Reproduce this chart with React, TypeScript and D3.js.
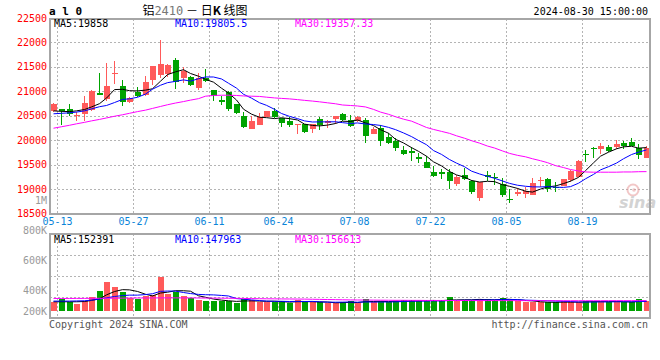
import React from 'react';
import * as d3 from 'd3';

// trading days shown (05-13 .. 08-30)
const dates = [
  '05-13', '05-14', '05-15', '05-16', '05-17', '05-20', '05-21', '05-22', '05-23', '05-24',
  '05-27', '05-28', '05-29', '05-30', '05-31', '06-03', '06-04', '06-05', '06-06', '06-07',
  '06-11', '06-12', '06-13', '06-14', '06-17', '06-18', '06-19', '06-20', '06-21', '06-24',
  '06-25', '06-26', '06-27', '06-28', '07-01', '07-02', '07-03', '07-04', '07-05', '07-08',
  '07-09', '07-10', '07-11', '07-12', '07-15', '07-16', '07-17', '07-18', '07-19', '07-22',
  '07-23', '07-24', '07-25', '07-26', '07-29', '07-30', '07-31', '08-01', '08-02', '08-05',
  '08-06', '08-07', '08-08', '08-09', '08-12', '08-13', '08-14', '08-15', '08-16', '08-19',
  '08-20', '08-21', '08-22', '08-23', '08-26', '08-27', '08-28', '08-29', '08-30',
];

const opens = [
  20590, 20630, 20640, 20490, 20545, 20620, 20960, 20837, 21345, 21110,
  20776, 20987, 20919, 21232, 21340, 21347, 21640, 21280, 21300, 21075,
  21265, 21026, 20822, 20992, 20740, 20495, 20236, 20318, 20481, 20597,
  20447, 20400, 20304, 20325, 20236, 20434, 20345, 20434, 20536, 20413,
  20390, 20413, 20134, 20250, 20073, 19991, 19800, 19787, 19650, 19555,
  19358, 19358, 19358, 19106, 19290, 19167, 18827, 19283, 19256, 19104,
  18805, 18908, 18895, 18881, 19155, 19208, 19050, 19072, 19187, 19255,
  19719, 19848, 19814, 19855, 19868, 19937, 19957, 19848, 19644,
];
const highs = [
  20760, 20645, 20735, 20585, 20905, 21030, 21380, 21585, 21620, 21230,
  20880, 21082, 21313, 21520, 22050, 21560, 21680, 21490, 21320, 21368,
  21450, 21030, 20910, 21005, 20750, 20584, 20495, 20563, 20600, 20658,
  20460, 20468, 20335, 20340, 20340, 20468, 20410, 20500, 20563, 20509,
  20490, 20447, 20277, 20311, 20141, 20040, 19882, 19870, 19732, 19678,
  19473, 19405, 19405, 19283, 19439, 19180, 19150, 19371, 19324, 19220,
  19000, 19017, 19050, 19220, 19255, 19222, 19153, 19215, 19392, 19596,
  19790, 19870, 19950, 19903, 20005, 19991, 20046, 19916, 19889,
];
const lows = [
  20580, 20310, 20500, 20395, 20400, 20600, 20920, 20810, 21150, 20690,
  20760, 20890, 20905, 21120, 21265, 21290, 21048, 21164, 21110, 21028,
  21190, 20808, 20720, 20604, 20543, 20257, 20236, 20318, 20478, 20460,
  20277, 20263, 20134, 20155, 20154, 20209, 20250, 20340, 20400, 20270,
  20380, 19950, 20120, 19889, 19920, 19780, 19698, 19582, 19528, 19430,
  19256, 19208, 19004, 19065, 19190, 18901, 18765, 19174, 19085, 18845,
  18725, 18867, 18815, 18875, 19050, 18935, 18950, 19065, 19140, 19240,
  19560, 19630, 19720, 19766, 19828, 19814, 19885, 19616, 19630,
];
const closes = [
  20740, 20590, 20540, 20510, 20755, 21007, 20925, 21110, 21380, 20783,
  20865, 20905, 21190, 21517, 21558, 21538, 21190, 21408, 21130, 21279,
  21217, 20904, 20788, 20638, 20563, 20277, 20400, 20468, 20597, 20468,
  20359, 20311, 20332, 20175, 20332, 20311, 20393, 20495, 20413, 20297,
  20470, 20093, 20222, 19991, 19937, 19848, 19719, 19746, 19610, 19440,
  19269, 19310, 19174, 19256, 19201, 18942, 19147, 19249, 19222, 18880,
  18785, 18930, 18963, 19133, 19187, 19004, 19030, 19208, 19378, 19576,
  19690, 19830, 19889, 19787, 19923, 19889, 19889, 19698, 19846,
];
const volumes = [
  131000, 182000, 141000, 111000, 152000, 217000, 303000, 439000, 364000, 293000,
  202000, 182000, 227000, 237000, 515000, 263000, 293000, 227000, 202000, 167000,
  152000, 157000, 146000, 152000, 121000, 182000, 167000, 131000, 131000, 131000,
  152000, 126000, 167000, 131000, 131000, 131000, 116000, 116000, 141000, 152000,
  116000, 182000, 131000, 152000, 131000, 152000, 167000, 167000, 152000, 152000,
  162000, 152000, 212000, 162000, 162000, 162000, 182000, 182000, 162000, 197000,
  162000, 146000, 131000, 131000, 131000, 131000, 131000, 146000, 131000, 131000,
  152000, 152000, 146000, 131000, 146000, 131000, 131000, 182000, 152000,
];

// moving-average values before enough history is on screen
const ma5Head = [20600, 20590, 20585, 20600];
const ma10Head = [20540, 20550, 20560, 20575, 20600, 20640, 20685, 20710, 20770];
const ma30 = [
  20245, 20275, 20305, 20335, 20365, 20395, 20425, 20455, 20490, 20520,
  20550, 20585, 20615, 20650, 20690, 20725, 20760, 20790, 20820, 20850,
  20900, 20915, 20920, 20920, 20915, 20905, 20900, 20895, 20880, 20865,
  20855, 20845, 20830, 20815, 20800, 20785, 20765, 20745, 20720, 20710,
  20700, 20680, 20630, 20575, 20530, 20480, 20430, 20390, 20330, 20260,
  20220, 20180, 20140, 20090, 20040, 19990, 19940, 19880, 19840, 19780,
  19730, 19690, 19660, 19620, 19580, 19540, 19480, 19440, 19400, 19370,
  19350, 19345, 19345, 19345, 19345, 19350, 19350, 19355, 19357,
];
const volMa5Head = [140000, 140000, 140000, 140000];
const volMa10Head = [150000, 150000, 150000, 152000, 155000, 165000, 180000, 200000, 220000];
const volMa30 = [
  190000, 190000, 190000, 191000, 191000, 192000, 192000, 193000, 194000, 195000,
  196000, 197000, 197000, 198000, 199000, 199000, 199000, 198000, 198000, 197000,
  196000, 195000, 194000, 193000, 192000, 190000, 188000, 186000, 185000, 184000,
  183000, 182000, 181000, 180000, 178000, 176000, 174000, 172000, 170000, 168000,
  167000, 166000, 165000, 164000, 163000, 162000, 162000, 161000, 161000, 160000,
  160000, 160000, 159000, 159000, 159000, 158000, 158000, 158000, 158000, 157000,
  157000, 157000, 157000, 157000, 157000, 156000, 156000, 156000, 156000, 156000,
  156000, 156000, 156000, 157000, 157000, 157000, 157000, 157000, 157000,
];

const priceTicks = [22500, 22000, 21500, 21000, 20500, 20000, 19500, 19000, 18500];
const volTicks = [1000000, 800000, 600000, 400000, 200000];
const volTickLabels = ['1M', '800K', '600K', '400K', '200K'];
const dateTicks = ['05-13', '05-27', '06-11', '06-24', '07-08', '07-22', '08-05', '08-19'];
const priceLegend = ['MA5:19858', 'MA10:19805.5', 'MA30:19357.33'];
const volLegend = ['MA5:152391', 'MA10:147963', 'MA30:156613'];

const RED = '#ff5a5a';
const GREEN = '#00a300';
const MA_COLORS = ['#000000', '#0000ff', '#ff00ff'];
const MONO = '"DejaVu Sans Mono", "Liberation Mono", monospace';

function trailing(values: number[], n: number, head: number[]) {
  return values.map((v, i) => (i < n - 1 ? head[i] : (d3.mean(values.slice(i - n + 1, i + 1)) as number)));
}

export default function App() {
  const W = 660, H = 360;
  const left = 49.5, right = 649.9;
  const pTop = 19, pBottom = 213.5;
  const vTop = 233.5, vBottom = 317.5, vBase = 311;

  const x = d3.scaleBand<string>().domain(dates).range([left, right]);
  const step = x.step();
  const col = (i: number) => Math.round((x(dates[i]) as number) + step / 2);
  const cx = (i: number) => col(i) + 0.5;
  const gx = (d: string) => Math.round((x(d) as number) + step) + 0.5;

  const y = d3.scaleLinear().domain([18500, 22500]).range([pBottom, 18]);
  const yv = d3.scaleLinear().domain([0, 1000000]).range([vBase, vBase - 66]);
  const yLabelVol = d3.scaleLinear().domain([0, 1000000]).range([350, 200]);

  const ma5 = trailing(closes, 5, ma5Head);
  const ma10 = trailing(closes, 10, ma10Head);
  const vma5 = trailing(volumes, 5, volMa5Head);
  const vma10 = trailing(volumes, 10, volMa10Head);

  const priceLine = d3.line<number>().x((_, i) => cx(i)).y((d) => y(d));
  const volLine = d3.line<number>().x((_, i) => cx(i)).y((d) => yv(d));

  const bodyW = 6;
  const grid = { stroke: '#b4b4b4', strokeDasharray: '2,2', strokeWidth: 1 };
  const volGridYs = [1, 2, 3].map((k) => Math.round(vTop + ((vBottom - vTop) * k) / 4) + 0.5);

  return (
    <div style={{ position: 'absolute', left: 0, top: 0, background: '#fff' }}>
      <svg width={W} height={H} style={{ display: 'block' }} fontFamily={MONO}>
        <rect width={W} height={H} fill="#fff" />

        {/* header */}
        <text x={49} y={15} fontSize={11} fontWeight="bold" fill="#000">a l 0</text>
        <text x={195} y={15} fontSize={12} textAnchor="middle" fill="#000"
          fontFamily='"Noto Sans CJK SC", "DejaVu Sans Mono", sans-serif'>
          铝<tspan fill="#777" fontFamily={MONO}>2410</tspan> － 日<tspan fontWeight="bold">K</tspan> 线图
        </text>
        <text x={648} y={15} fontSize={10} textAnchor="end" fill="#000">2024-08-30 15:00:00</text>

        {/* grids */}
        <g shapeRendering="crispEdges">
          {priceTicks.slice(1, -1).map((t) => (
            <line key={t} x1={left} x2={right} y1={Math.round(y(t)) + 0.5} y2={Math.round(y(t)) + 0.5} {...grid} />
          ))}
          {volGridYs.map((gy) => (
            <line key={gy} x1={left} x2={right} y1={gy} y2={gy} {...grid} />
          ))}
          {dateTicks.map((d) => (
            <g key={d}>
              <line x1={gx(d)} x2={gx(d)} y1={pTop} y2={pBottom} {...grid} />
              <line x1={gx(d)} x2={gx(d)} y1={vTop} y2={vBottom} {...grid} />
            </g>
          ))}
        </g>

        {/* sina watermark */}
        <g opacity={0.55}>
          <circle cx={633} cy={190} r={5.5} fill="none" stroke="#e89a9a" strokeWidth={2} />
          <circle cx={634} cy={190} r={1.8} fill="#e89a9a" />
          <text x={619} y={208} fontSize={16} fontWeight="bold" fontStyle="italic" fill="#b0b0b0"
            fontFamily='"DejaVu Sans", sans-serif'>sina</text>
        </g>

        {/* candles */}
        <g shapeRendering="crispEdges">
          {dates.map((d, i) => {
            const up = closes[i] >= opens[i];
            const c = up ? RED : GREEN;
            const top = Math.round(y(Math.max(opens[i], closes[i])));
            const bot = Math.round(y(Math.min(opens[i], closes[i])));
            return (
              <g key={d}>
                <line x1={cx(i)} x2={cx(i)} y1={y(highs[i])} y2={y(lows[i])} stroke={c} strokeWidth={1} />
                <rect x={col(i) - 2} y={top} width={bodyW} height={Math.max(1, bot - top)} fill={c} />
              </g>
            );
          })}
        </g>

        {/* price MAs */}
        {[ma5, ma10, ma30].map((s, k) => (
          <path key={k} d={priceLine(s) as string} fill="none" stroke={MA_COLORS[k]} strokeWidth={1} />
        ))}

        {/* volume bars */}
        <g shapeRendering="crispEdges">
          {dates.map((d, i) => {
            const up = closes[i] >= opens[i];
            const top = Math.round(yv(volumes[i]));
            return (
              <rect key={d} x={col(i) - 2} y={top} width={bodyW} height={vBase - top}
                fill={up ? RED : GREEN} />
            );
          })}
        </g>
        {[vma5, vma10, volMa30].map((s, k) => (
          <path key={k} d={volLine(s) as string} fill="none" stroke={MA_COLORS[k]} strokeWidth={1} />
        ))}

        {/* panel borders */}
        <g fill="none" stroke="#a6a6a6" strokeWidth={2} shapeRendering="crispEdges">
          <rect x={50} y={pTop} width={599.5} height={pBottom - pTop} />
          <rect x={50} y={vTop} width={599.5} height={vBottom - vTop} />
        </g>

        {/* y axis labels */}
        {priceTicks.map((t) => (
          <text key={t} x={47} y={y(t)} dy="0.35em" fontSize={10} textAnchor="end" fill="#ff0000">{t}</text>
        ))}
        {volTicks.map((v, k) => (
          <text key={v} x={47} y={Math.min(yLabelVol(v), vBottom - 6.5)} dy="0.35em" fontSize={10}
            textAnchor="end" fill="#999">{volTickLabels[k]}</text>
        ))}

        {/* x axis labels */}
        {dateTicks.map((d) => (
          <text key={d} x={gx(d)} y={225} fontSize={10} textAnchor="middle" fill="#0a84d8">{d}</text>
        ))}

        {/* legends */}
        {priceLegend.map((t, k) => (
          <text key={t} x={[54, 175, 295][k]} y={27} fontSize={10} fill={MA_COLORS[k]}>{t}</text>
        ))}
        {volLegend.map((t, k) => (
          <text key={t} x={[54, 175, 295][k]} y={242.5} fontSize={10} fill={MA_COLORS[k]}>{t}</text>
        ))}

        {/* footer */}
        <text x={49} y={328} fontSize={10} fill="#555">Copyright 2024 SINA.COM</text>
        <text x={648} y={328} fontSize={10} textAnchor="end" fill="#555">http://finance.sina.com.cn</text>
      </svg>
    </div>
  );
}
